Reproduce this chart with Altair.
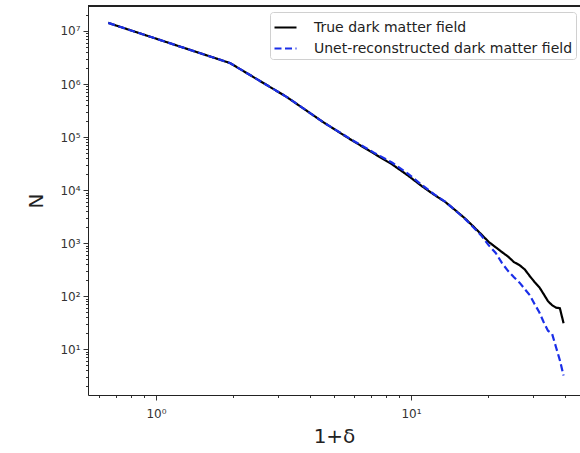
import altair as alt
import pandas as pd

delta_plus_one = [0.65, 1.95, 3.25, 4.55, 5.85, 7.15, 8.45, 9.75, 11.05, 12.35,
                  13.65, 14.95, 16.25, 17.55, 18.85, 20.15, 21.45, 22.75, 24.05, 25.35,
                  26.65, 27.95, 29.25, 30.55, 31.85, 33.15, 34.45, 35.75, 37.05, 38.35, 39.65]
true_counts = [1.42e7, 2.49e6, 5.73e5, 1.88e5, 8.75e4, 4.91e4, 3.04e4, 1.87e4, 1.18e4, 8.12e3,
               5.94e3, 4.14e3, 2.95e3, 2.07e3, 1.47e3, 1.06e3, 841, 677, 556, 438,
               385, 318, 238, 184, 148, 109, 80.5, 67.6, 60.7, 59.4, 31.0]
unet_counts = [1.42e7, 2.49e6, 5.73e5, 1.88e5, 8.9e4, 5.1e4, 3.28e4, 2.02e4, 1.24e4, 8.3e3,
               6.0e3, 4.1e3, 2.9e3, 2.0e3, 1.4e3, 916, 662, 420, 297, 228,
               180, 136, 104, 70.6, 49.9, 32.3, 22.3, 19.6, 10.9, 6.2, 3.2]
series_names = ["True dark matter field", "Unet-reconstructed dark matter field"]

x_ticks = [0.6, 0.7, 0.8, 0.9, 1, 2, 3, 4, 5, 6, 7, 8, 9, 10, 20, 30, 40]
y_ticks = [m * 10 ** k for k in range(0, 8) for m in range(1, 10) if 1.4 <= m * 10 ** k <= 2.9e7]

rows = []
for name, vals in zip(series_names, [true_counts, unet_counts]):
    for xv, yv in zip(delta_plus_one, vals):
        rows.append({"x": xv, "N": yv, "series": name})
df = pd.DataFrame(rows)

FONT = "DejaVu Sans"
W, H = 492, 389
is_major = "abs(log(datum.value)/LN10 - round(log(datum.value)/LN10)) < 0.001"
sup = "['⁰','¹','²','³','⁴','⁵','⁶','⁷','⁸','⁹'][round(log(datum.value)/LN10)]"
label_expr = f"({is_major}) ? '10' + {sup} : ''"
tick_size = {"condition": {"test": is_major, "value": 5}, "value": 2.5}

xscale = alt.Scale(type="log", domain=[0.5412, 46.0], nice=False)
yscale = alt.Scale(type="log", domain=[1.37, 2.96e7], nice=False)

legend = alt.Legend(title=None, orient="none", legendX=182, legendY=6,
                    symbolType="stroke", symbolSize=484, symbolStrokeWidth=2.2,
                    labelFont=FONT, labelFontSize=14, labelColor="#222222", labelOffset=16,
                    fillColor="white", strokeColor="#d0d0d0", padding=3,
                    cornerRadius=3, rowPadding=1, labelLimit=400)
color = alt.Color("series:N", scale=alt.Scale(domain=series_names, range=["#000000", "#1a2ee8"]),
                  legend=legend)
dash = alt.StrokeDash("series:N", scale=alt.Scale(domain=series_names, range=[[1, 0], [7, 3.5]]),
                      legend=legend)

common = dict(tickSize=tick_size, grid=False, domain=True, domainColor="#222222",
              labelFont=FONT, labelFontSize=12, labelColor="#333333", tickColor="#333333",
              titleFont=FONT, titleFontSize=20, titleFontWeight="normal", titleColor="#222222",
              labelExpr=label_expr, labelFlush=False, labelOverlap=False)

xaxis = alt.Axis(values=x_ticks, title="1+δ", labelPadding=8, titlePadding=7, **common)
yaxis = alt.Axis(values=y_ticks, title="N", labelPadding=3, titlePadding=13, **common)

lines = alt.Chart(df).mark_line(strokeWidth=2.2).encode(
    x=alt.X("x:Q", scale=xscale, axis=xaxis),
    y=alt.Y("N:Q", scale=yscale, axis=yaxis),
    color=color,
    strokeDash=dash,
    order=alt.Order("x:Q"),
)

top_spine = alt.Chart(df).mark_rule(color="#222222", strokeWidth=1).encode(
    x=alt.value(0), x2=alt.value(W), y=alt.value(0)
)

chart = alt.layer(lines, top_spine).properties(
    width=W, height=H,
    autosize=alt.AutoSizeParams(type="none"),
    padding={"left": 88, "top": 6, "right": 0, "bottom": 58},
).configure_view(stroke=None)

chart.save("out.html", embed_options={"renderer": "svg", "actions": False})
